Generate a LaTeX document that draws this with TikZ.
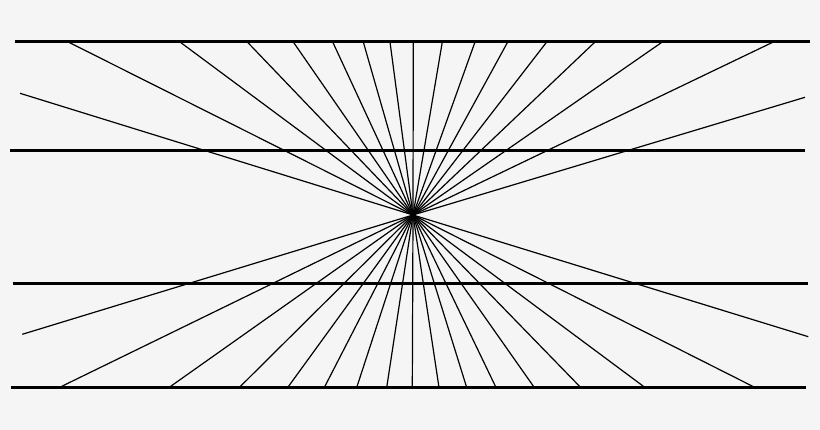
\documentclass[tikz,border=0pt]{standalone}
\begin{document}
\begin{tikzpicture}[x=1pt,y=-1pt,
  thickline/.style={line width=3pt,black},
  ray/.style={line width=1.2pt,black}]
\fill[black!4] (0,0) rectangle (820,430);
\useasboundingbox (0,0) rectangle (820,430);
\coordinate (c) at (413,215);
% horizontal lines
\coordinate (h1a) at (15,41.7);  \coordinate (h1b) at (810,41.7);
\coordinate (h2a) at (10,150.5); \coordinate (h2b) at (805,150.5);
\coordinate (h3a) at (12.7,283.5); \coordinate (h3b) at (807.7,283.5);
\coordinate (h4a) at (11,388);   \coordinate (h4b) at (805.7,388);
% top ray ends
\foreach \x [count=\i] in {68.3,180,247.3,293.3,332.7,363.3,390,413.3,442.3,475,507.7,546.7,595,662.3,773.3}
  \coordinate (t\i) at (\x,42);
% bottom ray ends
\foreach \x [count=\i] in {59.3,169,239.3,287.7,324.3,356.7,386.7,412.3,439,466.7,496,534.3,580.7,645,755}
  \coordinate (b\i) at (\x,387.5);
% side ray ends
\coordinate (sl1) at (20,93.3);
\coordinate (sr1) at (805,97.3);
\coordinate (sl2) at (22.3,334.3);
\coordinate (sr2) at (808.3,336.7);
% rays
\foreach \i in {1,...,15} {
  \draw[ray] (c) -- (t\i);
  \draw[ray] (c) -- (b\i);
}
\foreach \n in {sl1,sr1,sl2,sr2}
  \draw[ray] (c) -- (\n);
% thick lines
\draw[thickline] (h1a) -- (h1b);
\draw[thickline] (h2a) -- (h2b);
\draw[thickline] (h3a) -- (h3b);
\draw[thickline] (h4a) -- (h4b);
\end{tikzpicture}
\end{document}
